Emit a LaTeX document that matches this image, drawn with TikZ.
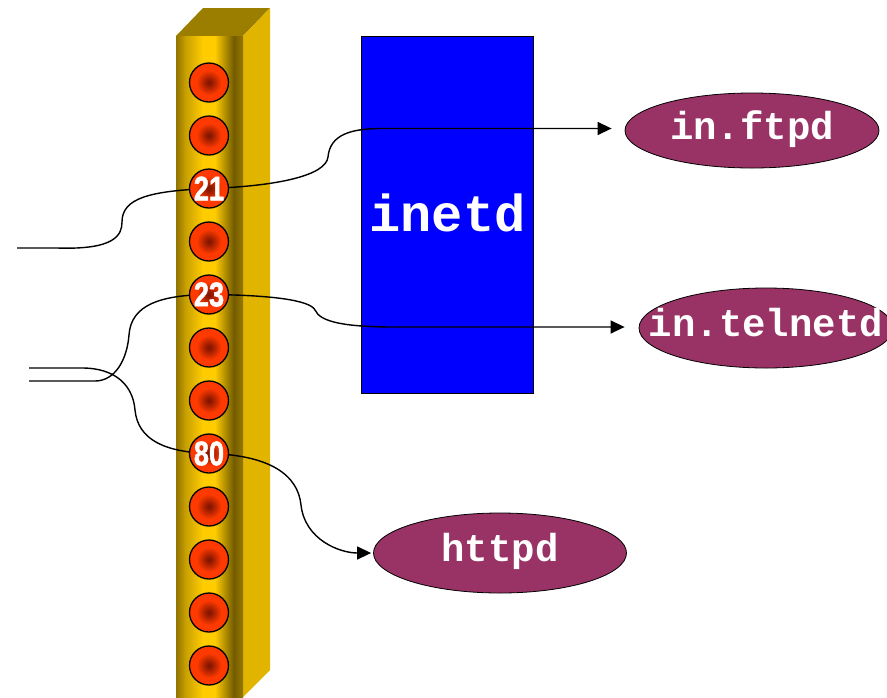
\documentclass[tikz,border=0pt]{standalone}
\usepackage{fontspec}
\usepackage{graphicx}
\usetikzlibrary{shapes.geometric,arrows.meta}

\newfontfamily\portfont{Liberation Sans}[BoldFeatures={FakeBold=1.6}]
\newfontfamily\daemonfont{Liberation Mono}
\newcommand\portlabel[1]{{\portfont\bfseries\fontsize{34}{34}\selectfont\scalebox{0.8}[1]{#1}}}

\definecolor{colTop}{RGB}{155,125,0}
\definecolor{colSide}{RGB}{225,180,0}
\definecolor{colEdge}{RGB}{145,115,0}
\definecolor{colGold}{RGB}{255,204,0}
\definecolor{colDark}{RGB}{115,92,0}
\definecolor{colRight}{RGB}{150,120,0}
\definecolor{ballCore}{RGB}{135,22,0}
\definecolor{ballRim}{RGB}{255,58,0}
\definecolor{daemon}{RGB}{153,51,102}

% front face of the port column: dark edges, bright middle
% (the path's width is mapped onto 25bp..75bp)
\pgfdeclarehorizontalshading{pillar}{100bp}{color(0bp)=(colEdge); color(25bp)=(colEdge); color(32bp)=(colEdge!50!colGold); color(45bp)=(colGold); color(54bp)=(colGold); color(68bp)=(colDark); color(75bp)=(colRight); color(100bp)=(colRight)}
% port socket: dark core fading to orange-red (the rim lies at 25bp)
\pgfdeclareradialshading{ball}{\pgfpoint{0bp}{0bp}}{color(0bp)=(ballCore); color(2bp)=(ballCore); color(16bp)=(ballRim); color(50bp)=(ballRim)}

\pgfdeclarelayer{under}
\pgfdeclarelayer{over}
\pgfsetlayers{under,main,over}

\begin{document}
\begin{tikzpicture}[x=1pt,y=-1pt,
  port/.style={circle,draw=black,line width=1.3pt,minimum size=39pt,inner sep=0pt,
    shade,shading=ball,text=white},
  daemonnode/.style={ellipse,draw=black,line width=0.8pt,fill=daemon,text=white,inner sep=0pt,
    text height=17pt,text depth=0pt,font=\daemonfont\bfseries\fontsize{39}{39}\selectfont},
  wire/.style={line width=1.4pt,draw=black},
  arrowwire/.style={wire,-{Triangle[length=14pt,width=13pt]}}]

\useasboundingbox (0,0) rectangle (887,697);

\begin{pgfonlayer}{under}
  % port column drawn as a box in perspective
  \fill[colTop] (176,36) -- (203,8) -- (270,8) -- (243,36) -- cycle;
  \fill[colSide] (243,36) -- (270,8) -- (270,670) -- (243,697) -- cycle;
  \shade[shading=pillar] (176,36) rectangle (243,697);
  % the super-server
  \node[draw=black,line width=1pt,fill=blue,minimum width=172pt,minimum height=357pt,
    inner sep=0pt,anchor=north west,text=white,text height=32pt,text depth=0pt,
    font=\daemonfont\bfseries\fontsize{52}{52}\selectfont] (inetd) at (361,36) {inetd};
\end{pgfonlayer}

\begin{pgfonlayer}{over}
  \foreach \i/\lab in {1/,2/,3/21,4/,5/23,6/,7/,8/80,9/,10/,11/,12/}
    \node[port] (p\i) at (209,{82.5+53*(\i-1)}) {\portlabel{\lab}};
\end{pgfonlayer}

% daemons
\node[daemonnode,minimum width=254pt,minimum height=75pt] (ftpd) at (752,130.5) {\makebox[0pt]{in.ftpd}};
\node[daemonnode,minimum width=254pt,minimum height=80pt] (telnetd) at (766,328) {\makebox[0pt]{in.telnetd}};
\node[daemonnode,minimum width=253pt,minimum height=80pt] (httpd) at (500,553) {\makebox[0pt]{httpd}};

% incoming connections
\coordinate (inA) at (17,248);
\coordinate (inB) at (29,368);
\coordinate (inC) at (29,381);

% port 21 -> in.ftpd
\draw[wire] (inA) -- (57,248) .. controls (115,250) and (122,235) .. (122,222)
  .. controls (122,198) and (150,191) .. (p3.center);
\draw[arrowwire,shorten >=13pt] (p3.center) .. controls (280,186) and (326,175) .. (328,157)
  .. controls (330,135) and (350,128) .. (385,128.5) -- (ftpd.west |- 0,128.5);

% port 23 -> in.telnetd
\draw[wire] (inC) -- (95,381) .. controls (115,381) and (127,360) .. (129,335)
  .. controls (131,305) and (160,295) .. (p5.center);
\draw[arrowwire,shorten >=14pt] (p5.center) .. controls (270,295) and (310,300) .. (315,310)
  .. controls (320,322) and (345,327) .. (395,327) -- (telnetd.west |- 0,327);

% port 80 -> httpd
\draw[wire] (inB) -- (82,368) .. controls (115,368) and (133,385) .. (135,410)
  .. controls (138,440) and (165,452) .. (p8.center);
\draw[arrowwire,shorten >=2pt] (p8.center) .. controls (270,455) and (298,475) .. (301,505)
  .. controls (305,540) and (340,553) .. (httpd.west);

\end{tikzpicture}
\end{document}
